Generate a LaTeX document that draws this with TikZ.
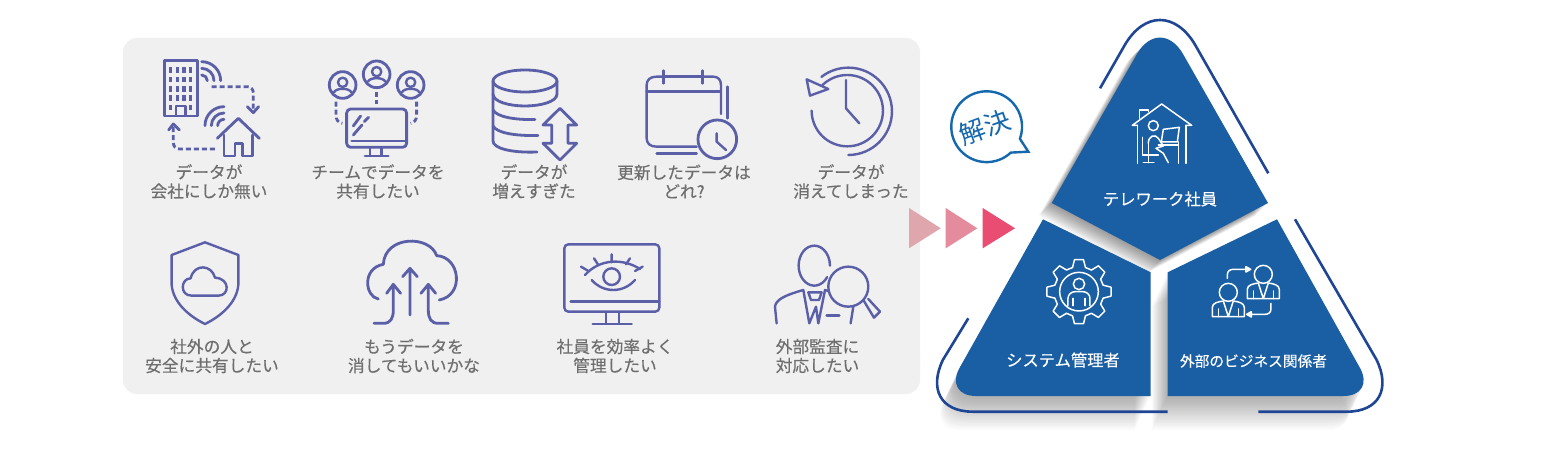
\documentclass[tikz,border=0pt]{standalone}
\usepackage{fontspec}
\setmainfont{Noto Sans CJK JP}
\newfontfamily\medjp[FakeBold=0.3]{Noto Sans CJK JP}
\definecolor{icoblue}{HTML}{5A5FA8}
\definecolor{txtgray}{HTML}{6E6E6E}
\definecolor{panelblue}{HTML}{1A5EA3}
\definecolor{linkblue}{HTML}{1F4694}
\definecolor{bubble}{HTML}{1568AE}
\definecolor{pinka}{HTML}{DFA6AE}
\definecolor{pinkb}{HTML}{E48B9E}
\definecolor{pinkc}{HTML}{EA4D72}
\tikzset{
  ico/.style={draw=icoblue,line width=2.8pt,line cap=round,line join=round},
  icob/.style={draw=icoblue,line width=2.4pt,line cap=round,line join=round},
  icodash/.style={ico,dash pattern=on 5pt off 3pt,line cap=butt},
  icotext/.style={text=txtgray,font=\medjp\fontsize{16.7pt}{19pt}\selectfont,align=center,inner sep=0pt},
  whicon/.style={draw=white,line width=1.5pt,line cap=round,line join=round},
  paneltext/.style={text=white,inner sep=0pt},
  outer/.style={draw=linkblue,line width=2.6pt},
  zoomed/.style={x=0.3333pt,y=-0.3333pt}
}
\def\toppanel{(1051.7,203) -- (1137,54) .. controls (1149.7,32.1) and (1170.3,32.1) .. (1183,54) -- (1268,203) -- (1160,260) -- cycle}
\def\leftpanel{(1043,219.3) -- (959.5,368) .. controls (950.9,383.5) and (958.1,396) .. (976,396) -- (1150.7,396) -- (1150.7,272.3) -- cycle}
\def\rightpanel{(1277,219.3) -- (1360,368) .. controls (1368.6,383.5) and (1361.4,396) .. (1343.5,396) -- (1167.7,396) -- (1167.7,272.3) -- cycle}
\begin{document}
\begin{tikzpicture}[x=1pt,y=-1pt]
\useasboundingbox (0,0) rectangle (1552,468);
\fill[white] (0,0) rectangle (1552,468);
\fill[fill=black!6,rounded corners=14pt] (123,38) rectangle (920,394);

% ---- row 1 icons
\begin{scope}[shift={(120,40)},zoomed]
  \draw[ico] (133,62) rectangle (232,228);
  \foreach \xx in {152,172,192,212}\foreach \yy in {82,110,138,166}
    \fill[icoblue] (\xx-5,\yy) rectangle (\xx+5,\yy+17);
  \foreach \xx in {152,212} \fill[icoblue] (\xx-5,194) rectangle (\xx+5,211);
  \draw[ico] (168,226) -- (168,198) -- (196,198) -- (196,226);
  \draw[ico] (245,65) arc[start angle=-90,end angle=0,radius=57];
  \draw[ico] (245,85) arc[start angle=-90,end angle=0,radius=37];
  \draw[ico] (245,105) arc[start angle=-90,end angle=0,radius=17];
  \draw[icodash,rounded corners=6pt] (275,140) -- (400,140) -- (400,212);
  \draw[ico] (382,200) -- (400,218) -- (416,200);
  \draw[ico] (292,295) -- (355,235) -- (418,295);
  \draw[ico] (312,285) -- (312,348) -- (345,348) -- (345,310) -- (368,310) -- (368,348) -- (398,348) -- (398,285);
  \draw[ico] (255,257) arc[start angle=180,end angle=270,radius=57];
  \draw[ico] (274,257) arc[start angle=180,end angle=270,radius=38];
  \draw[ico] (293,257) arc[start angle=180,end angle=270,radius=19];
  \draw[icodash,rounded corners=6pt] (285,327) -- (160,327) -- (160,258);
  \draw[ico] (146,270) -- (160,252) -- (178,270);
  % team
  \foreach \cx/\cy in {668/135,770/103,872/135}{
    \draw[ico] (\cx,\cy) circle[radius=40];
    \draw[icob] (\cx,\cy-8) circle[radius=14];
    \draw[icob] (\cx-26,\cy+22) .. controls (\cx-20,\cy+8) and (\cx+20,\cy+8) .. (\cx+26,\cy+22);
  }
  \draw[icodash] (770,155) -- (770,192);
  \draw[icodash] (648,185) -- (648,225) .. controls (648,240) and (655,248) .. (667,250);
  \draw[icodash] (890,185) -- (890,225) .. controls (890,240) and (883,248) .. (872,250);
  \draw[ico,rounded corners=4pt] (680,207) rectangle (860,322);
  \draw[ico] (695,303) -- (860,303);
  \draw[ico] (750,325) -- (750,346) (785,325) -- (785,346) (735,348) -- (805,348);
  \draw[ico] (700,258) -- (722,228) (733,245) -- (746,232) (700,285) -- (726,255);
\end{scope}

% database (full pixels)
\begin{scope}
  \draw[ico] (525,81) ellipse[x radius=32,y radius=11];
  \draw[ico] (493,81) -- (493,141) .. controls (493,148) and (510,153) .. (537,152);
  \draw[ico] (557,81) -- (557,94) .. controls (557,102) and (540,106) .. (525,106) .. controls (510,106) and (493,102) .. (493,94);
  \draw[ico] (493,110) .. controls (497,117) and (515,120) .. (535,119.5);
  \draw[ico] (493,126) .. controls (497,133) and (515,136) .. (538,135.5);
  \draw[ico] (560,108.3) -- (543,125) -- (551.7,125) -- (551.7,143.3) -- (543,143.3) -- (560,160) -- (576.7,143.3) -- (568,143.3) -- (568,125) -- (576.7,125) -- cycle;
\end{scope}

\begin{scope}[shift={(520,40)},zoomed]
  % calendar
  \draw[icob] (530,320) -- (410,320) .. controls (390,320) and (380,310) .. (380,295) -- (380,135) .. controls (380,120) and (390,110) .. (410,110) -- (430,110);
  \draw[icob] (430,110) -- (548,110);
  \draw[icob] (548,110) -- (580,110) .. controls (595,110) and (603,120) .. (603,135) -- (603,222);
  \draw[icob] (380,155) -- (603,155);
  \draw[ico] (430,92) -- (430,130) (548,92) -- (548,130);
  \draw[icob] (622,140) -- (622,235) (410,340) -- (530,340);
  \draw[ico] (592,298) circle[radius=58];
  \draw[icob] (590,280) -- (590,305) -- (618,330);
  % history clock
  \draw[icob] (875,212) arc[start angle=180,end angle=-135,radius=107];
  \draw[icob] (985,345) arc[start angle=90,end angle=-128,radius=131];
  \draw[icob] (860,118) -- (870,167) -- (925,147) -- cycle;
  \draw[icob] (978,120) -- (978,205) -- (1018,250);
\end{scope}

% ---- row 2 icons
\begin{scope}[shift={(120,225)},zoomed]
  \draw[icob] (255,52) -- (355,90) -- (355,180) .. controls (350,235) and (300,275) .. (255,297) .. controls (210,275) and (160,235) .. (155,180) -- (155,90) -- cycle;
  \draw[icob] (215,212) .. controls (178,212) and (182,160) .. (212,160) .. controls (222,115) and (275,118) .. (285,158) .. controls (330,160) and (330,212) .. (295,212) -- cycle;
  \draw[ico] (775,222) .. controls (735,215) and (725,130) .. (790,118) .. controls (795,30) and (930,30) .. (950,92) .. controls (1020,95) and (1035,210) .. (958,225);
  \draw[ico] (870,270) -- (870,132) (848,155) -- (870,130) -- (892,155);
  \draw[ico] (762,295) -- (790,295) .. controls (812,295) and (820,280) .. (820,255) -- (820,180) (800,205) -- (820,178) -- (842,205);
  \draw[ico] (985,295) -- (955,295) .. controls (933,295) and (925,280) .. (925,255) -- (925,180) (903,205) -- (925,178) -- (947,205);
\end{scope}
\begin{scope}[shift={(520,225)},zoomed]
  \draw[icob,rounded corners=4pt] (133,58) rectangle (418,260);
  \draw[icob] (152,230) -- (418,230);
  \draw[icob] (258,262) -- (258,295) (297,262) -- (297,295) (218,297) -- (335,297);
  \draw[icob] (195,150) .. controls (240,100) and (310,100) .. (360,132);
  \draw[icob] (222,100) -- (235,120) (275,88) -- (275,112) (330,100) -- (318,118) (183,125) -- (205,138) (368,125) -- (345,138);
  \draw[icob] (215,165) .. controls (250,205) and (310,205) .. (345,165);
  \draw[icob] (275,155) circle[radius=25];
  % auditor
  \draw[icob] (921.5,156.4) arc[start angle=35,end angle=360,x radius=47,y radius=60];
  \draw[icob] (985,185) circle[radius=60];
  \draw[icob] (1030,225) -- (1062,278) -- (1080,260) -- (1045,222);
  \draw[icob] (770,295) -- (765,245) .. controls (768,225) and (790,212) .. (850,195) -- (868,295) -- (888,245) -- (895,295) -- (915,195) -- (925,198);
  \draw[icob] (865,202) -- (905,202) -- (897,225) -- (873,225) -- cycle;
  \draw[icob] (920,272) -- (958,272);
  \draw[icob] (1000,245) -- (992,295);
\end{scope}

% ---- grey-panel labels
\node[icotext] (l1) at (209,181.5) {データが\\会社にしか無い};
\node[icotext] (l2) at (378,181.5) {チームでデータを\\共有したい};
\node[icotext] (l3) at (534,181.5) {データが\\増えすぎた};
\node[icotext] (l4) at (684,181.5) {更新したデータは\\どれ?};
\node[icotext] (l5) at (851,181.5) {データが\\消えてしまった};
\node[icotext] (l6) at (212,356) {社外の人と\\安全に共有したい};
\node[icotext] (l7) at (414,356) {もうデータを\\消してもいいかな};
\node[icotext] (l8) at (615,356) {社員を効率よく\\管理したい};
\node[icotext] (l9) at (817.5,356) {外部監査に\\対応したい};

% ---- pink triangles
\fill[pinka] (909,208) -- (940.7,228.3) -- (909,248.3) -- cycle;
\fill[pinkb] (945.7,208) -- (977.3,228.3) -- (945.7,248.3) -- cycle;
\fill[pinkc] (982.7,208) -- (1015,228.3) -- (982.7,248.3) -- cycle;

% ---- shadows
\foreach \i in {1,...,20}{
  \fill[black,opacity=.016,shift={(-0.8*\i,1.7*\i)}] \leftpanel;
  \fill[black,opacity=.016,shift={(-0.8*\i,1.7*\i)}] \rightpanel;
}
\foreach \i in {1,...,16}{
  \fill[black,opacity=.026,shift={(-0.8*\i,0.8*\i)}] \toppanel;
}

% ---- outer contour lines
\draw[outer] (1100,88.3) -- (1124.5,45.5) .. controls (1144.1,11.5) and (1175.9,11.5) .. (1195.5,45.5) -- (1268.3,173.3);
\draw[outer] (968.3,318.3) -- (943,359.7) .. controls (929,388.4) and (939.9,411.7) .. (973,411.7) -- (1167.7,411.7);
\draw[outer] (1295,219.3) -- (1376.5,359.7) .. controls (1390.5,388.4) and (1379.6,411.7) .. (1346.5,411.7) -- (1258.3,411.7);

% ---- blue panels
\fill[panelblue] \toppanel;
\fill[panelblue] \leftpanel;
\fill[panelblue] \rightpanel;

% ---- panel icons
\begin{scope}[shift={(900,10)},zoomed]
  \draw[whicon] (697,346) -- (785,282) -- (875,346) (697,346) -- (712,346) (858,346) -- (875,346);
  \draw[whicon] (718,325) -- (718,300) -- (745,300) -- (745,305);
  \draw[whicon] (712,346) -- (712,460) (858,346) -- (858,460);
  \draw[whicon] (760,347) circle[radius=15];
  \draw[whicon] (790,358) -- (838,352) -- (832,396) -- (784,396) -- cycle;
  \draw[whicon] (775,405) -- (835,405) (835,396) -- (835,460);
  \draw[whicon] (745,400) .. controls (745,378) and (765,370) .. (775,385) -- (790,408) -- (768,415) -- (790,430) -- (805,458);
  \draw[whicon] (745,400) -- (745,435) -- (775,435);
  \draw[whicon] (728,382) -- (728,435) -- (745,435) -- (745,458) (730,458) -- (762,458);
\end{scope}
\begin{scope}[shift={(900,210)},zoomed]
  \begin{scope}[shift={(537,245)}]
    \foreach \a in {0,45,...,315}{
      \draw[whicon] (\a-15:75) -- (\a-8:97) -- (\a+8:97) -- (\a+15:75) -- (\a+30:75);
    }
    \draw[whicon] (0,0) circle[radius=58];
    \draw[whicon] (0,-23) circle[radius=17];
    \draw[whicon] (-33,42) -- (-33,20) .. controls (-33,8) and (-22,0) .. (-12,0) -- (12,0) .. controls (22,0) and (33,8) .. (33,20) -- (33,42);
    \draw[whicon] (-18,42) -- (-18,20) (18,42) -- (18,20);
  \end{scope}
  \foreach \cx/\cy in {985/247,1090/193}{
    \draw[whicon] (\cx,\cy) circle[radius=27];
    \draw[whicon] (\cx-48,\cy+73) -- (\cx-48,\cy+45) .. controls (\cx-48,\cy+32) and (\cx-30,\cy+28) .. (\cx-15,\cy+26) -- (\cx,\cy+73) -- (\cx+15,\cy+26) .. controls (\cx+30,\cy+28) and (\cx+48,\cy+32) .. (\cx+48,\cy+45) -- (\cx+48,\cy+73) -- cycle;
    \draw[whicon] (\cx-30,\cy+73) -- (\cx-30,\cy+50) (\cx+30,\cy+73) -- (\cx+30,\cy+50);
  }
  \draw[whicon] (982,205) -- (982,195) .. controls (982,183) and (990,178) .. (1000,178) -- (1050,178) (1038,170) -- (1052,178) -- (1038,186) -- cycle;
  \draw[whicon] (1113,280) -- (1113,297) .. controls (1113,308) and (1105,313) .. (1095,313) -- (1042,313) (1054,305) -- (1040,313) -- (1054,321) -- cycle;
\end{scope}

% ---- panel labels
\node[paneltext,font=\medjp\fontsize{16.3pt}{19pt}\selectfont] (p1) at (1160,199) {テレワーク社員};
\node[paneltext,font=\medjp\fontsize{16.3pt}{19pt}\selectfont] (p2) at (1063,360) {システム管理者};
\node[paneltext,font=\medjp\fontsize{14.7pt}{18pt}\selectfont] (p3) at (1253.5,361) {外部のビジネス関係者};

% ---- bubble
\draw[draw=bubble,fill=white,line width=2.4pt,line join=miter] (1010.8,152.6) arc[start angle=47,end angle=380,radius=35.4] -- (1028.3,151.7) -- cycle;
\node[text=bubble,font=\fontsize{26pt}{28pt}\selectfont,rotate=20,inner sep=0pt] (kai) at (985,127) {解決};
\end{tikzpicture}
\end{document}
